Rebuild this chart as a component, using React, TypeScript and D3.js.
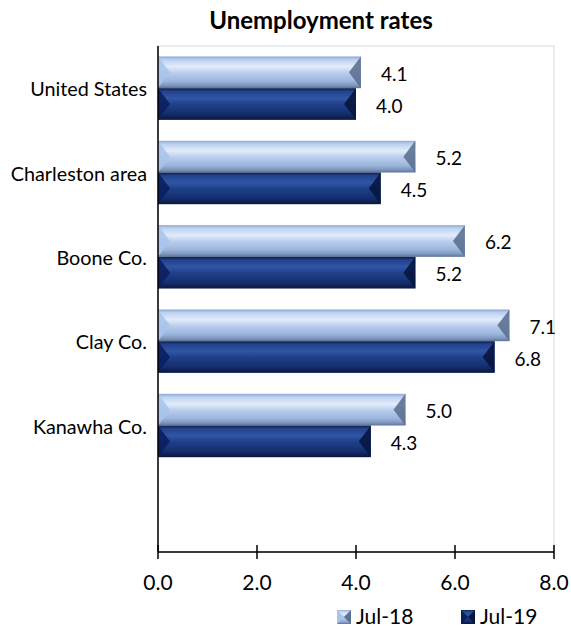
import React from "react";
import * as d3 from "d3";

const categories = ["United States", "Charleston area", "Boone Co.", "Clay Co.", "Kanawha Co.", ""];
const seriesNames = ["Jul-18", "Jul-19"];
const jul18 = [4.1, 5.2, 6.2, 7.1, 5.0];
const jul19 = [4.0, 4.5, 5.2, 6.8, 4.3];
const xTicks = [0, 2, 4, 6, 8];

const W = 571;
const H = 630;
const M = { left: 158, right: 554, top: 46, bottom: 552 };
const FONT = "Lato, 'Open Sans', sans-serif";

const x = d3.scaleLinear().domain([0, 8]).range([M.left, M.right]);
const y = d3.scaleBand<string>().domain(categories).range([M.top, M.bottom]).paddingInner(0).paddingOuter(0);
const ySub = d3.scaleBand<string>().domain(seriesNames).range([0, y.bandwidth()]).paddingInner(0).paddingOuter(0.33);

function Bar({ x0, x1, top, h, kind }: { x0: number; x1: number; top: number; h: number; kind: string }) {
  const w = x1 - x0;
  const d = Math.min(12, w / 3);
  const light = kind === "light";
  return (
    <g>
      <rect x={x0} y={top} width={w} height={h} fill={`url(#grad-${kind})`} />
      <polygon
        points={`${x0},${top} ${x0 + d},${top + h / 2} ${x0},${top + h}`}
        fill={light ? "#a9c4ec" : "#0a1f5e"}
        opacity={0.9}
      />
      <polygon
        points={`${x1},${top} ${x1 - d},${top + h / 2} ${x1},${top + h}`}
        fill={light ? "#5c7191" : "#081640"}
        opacity={0.9}
      />
    </g>
  );
}

export default function App() {
  const series = [
    { name: seriesNames[0], values: jul18, kind: "light" },
    { name: seriesNames[1], values: jul19, kind: "dark" },
  ];
  return (
    <svg width={W} height={H} style={{ position: "absolute", left: 0, top: 0 }} fontFamily={FONT}>
      <defs>
        <linearGradient id="grad-light" x1="0" y1="0" x2="0" y2="1">
          <stop offset="0%" stopColor="#8ea9d4" />
          <stop offset="10%" stopColor="#bcd1f0" />
          <stop offset="32%" stopColor="#e2ecfb" />
          <stop offset="52%" stopColor="#b9cdec" />
          <stop offset="78%" stopColor="#9bb5dd" />
          <stop offset="92%" stopColor="#7c94bb" />
          <stop offset="100%" stopColor="#5d7190" />
        </linearGradient>
        <linearGradient id="grad-dark" x1="0" y1="0" x2="0" y2="1">
          <stop offset="0%" stopColor="#0c1d4c" />
          <stop offset="10%" stopColor="#22428c" />
          <stop offset="32%" stopColor="#3056a5" />
          <stop offset="52%" stopColor="#1f3f88" />
          <stop offset="80%" stopColor="#142f70" />
          <stop offset="100%" stopColor="#0a173c" />
        </linearGradient>
      </defs>

      <text x={321} y={29} textAnchor="middle" fontWeight="bold" fontSize={24} fill="#000">
        Unemployment rates
      </text>

      <rect x={M.left} y={M.top} width={M.right - M.left} height={M.bottom - M.top} fill="none" stroke="#d9d9d9" strokeWidth={1} />

      {series.map((s) =>
        s.values.map((v, i) => {
          const top = (y(categories[i]) as number) + (ySub(s.name) as number);
          return <Bar key={s.name + i} x0={x(0)} x1={x(v)} top={top} h={ySub.bandwidth()} kind={s.kind} />;
        })
      )}

      {series.map((s) =>
        s.values.map((v, i) => {
          const top = (y(categories[i]) as number) + (ySub(s.name) as number);
          return (
            <text key={"l" + s.name + i} x={x(v) + 20} y={top + ySub.bandwidth() / 2 + 1} dominantBaseline="central" fontSize={19} fill="#000">
              {d3.format(".1f")(v)}
            </text>
          );
        })
      )}

      {categories.filter((c) => c).map((c) => (
        <text key={c} x={147} y={(y(c) as number) + y.bandwidth() / 2} textAnchor="end" dominantBaseline="central" fontSize={19.8} fill="#000">
          {c}
        </text>
      ))}

      <line x1={M.left} x2={M.left} y1={M.top} y2={M.bottom} stroke="#000" strokeWidth={1.5} />
      <line x1={M.left} x2={M.right} y1={M.bottom} y2={M.bottom} stroke="#000" strokeWidth={1.5} />
      {xTicks.map((t) => (
        <g key={t}>
          <line x1={x(t)} x2={x(t)} y1={M.bottom - 7} y2={M.bottom + 7} stroke="#000" strokeWidth={1.5} />
          <text x={x(t)} y={590} textAnchor="middle" fontSize={21} fill="#000">
            {d3.format(".1f")(t)}
          </text>
        </g>
      ))}

      {series.map((s, k) => {
        const lx = k === 0 ? 337 : 461;
        return (
          <g key={"lg" + s.name}>
            <rect x={lx} y={610} width={14} height={14} fill={`url(#grad-${s.kind})`} />
            <polygon points={`${lx},610 ${lx + 7},617 ${lx},624`} fill={s.kind === "light" ? "#a9c4ec" : "#0a1f5e"} />
            <polygon points={`${lx + 14},610 ${lx + 7},617 ${lx + 14},624`} fill={s.kind === "light" ? "#5c7191" : "#081640"} />
            <text x={lx + 19} y={624} fontSize={21} fill="#000">
              {s.name}
            </text>
          </g>
        );
      })}
    </svg>
  );
}
